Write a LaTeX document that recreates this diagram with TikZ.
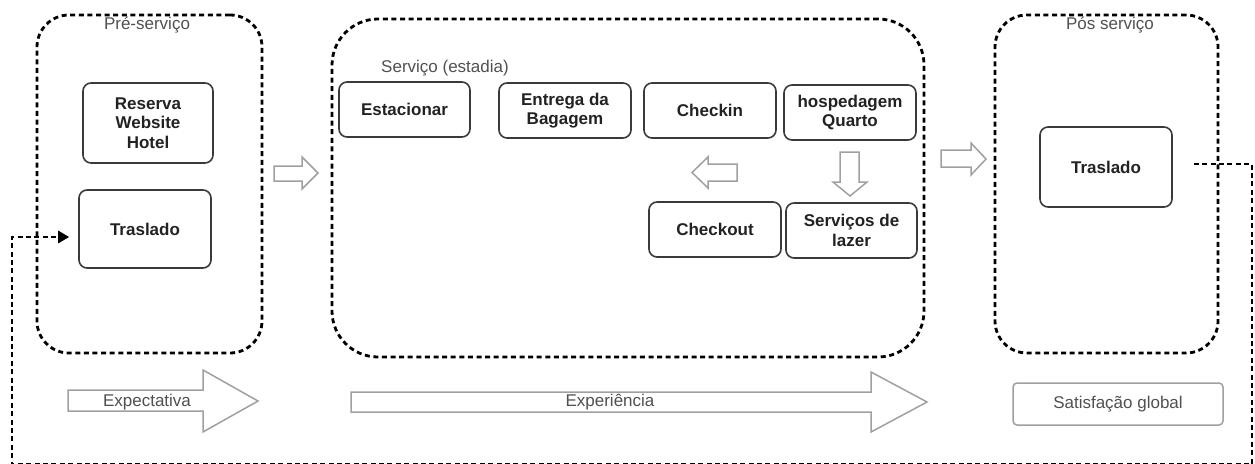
\documentclass[tikz,border=0pt]{standalone}
\usepackage{fontspec}
\setmainfont{Liberation Sans}
\usetikzlibrary{arrows.meta}

\definecolor{boxline}{HTML}{3A3A3A}
\definecolor{boxtext}{HTML}{222222}
\definecolor{softline}{HTML}{A0A0A0}
\definecolor{softtext}{HTML}{505050}

\begin{document}
\begin{tikzpicture}[x=1pt,y=-1pt,
  stage/.style={draw=black, line width=2.8pt, dash pattern=on 5pt off 3.6pt,
    rounded corners=#1, inner sep=0pt},
  stepbox/.style={draw=boxline, line width=1.6pt, rounded corners=8pt,
    align=center, text=boxtext, inner sep=0pt,
    font=\bfseries\fontsize{17}{19.5}\selectfont},
  caption/.style={text=softtext, inner sep=0pt, font=\fontsize{17}{20}\selectfont},
  hollow/.style={draw=softline, line width=1.5pt, fill=white, line join=miter},
  link/.style={draw=black, line width=2.9pt, dash pattern=on 5pt off 3.4pt}
]
\useasboundingbox (0,0) rectangle (1255,463);

% stage frames
\node[stage=32pt, minimum width=225, minimum height=338] (pre) at (149.5,184) {};
\node[stage=46pt, minimum width=592, minimum height=338] (mid) at (628,188) {};
\node[stage=32pt, minimum width=223, minimum height=338] (pos) at (1106.5,184) {};

\node[caption] (preLabel) at (147,25) {Pré-serviço};
\node[caption] (midLabel) at (445,68) {Serviço (estadia)};
\node[caption] (posLabel) at (1110,25) {Pós serviço};

% pre-service steps
\node[stepbox, minimum width=130, minimum height=80] (reserva) at (148,123) {Reserva\\Website\\Hotel};
\node[stepbox, minimum width=132, minimum height=78] (trL) at (145,229) {Traslado};

% service steps
\node[stepbox, minimum width=131, minimum height=55] (estac) at (404.5,109.5) {Estacionar};
\node[stepbox, minimum width=132, minimum height=55] (entrega) at (565,110.5) {Entrega da\\Bagagem};
\node[stepbox, minimum width=132, minimum height=55] (checkin) at (710,110.5) {Checkin};
\node[stepbox, minimum width=132, minimum height=55] (hosp) at (850,112.5) {hospedagem\\Quarto};
\node[stepbox, minimum width=132, minimum height=55] (checkout) at (715,229.5) {Checkout};
\node[stepbox, minimum width=131, minimum height=55] (lazer) at (851.5,230.5) {Serviços de\\lazer};

% post-service step
\node[stepbox, minimum width=132, minimum height=80] (trR) at (1106,167) {Traslado};

% satisfaction box
\node[draw=softline, line width=1.5pt, rounded corners=4pt, minimum width=210,
  minimum height=42, inner sep=0pt, text=softtext, font=\fontsize{17}{20}\selectfont]
  (satisf) at (1118,404) {Satisfação global};

% hollow flow arrows
\draw[hollow] (274,166) -- (302,166) -- (302,157) -- (318,173) -- (302,189) -- (302,181) -- (274,181) -- cycle;
\draw[hollow] (941,150) -- (971,150) -- (971,143) -- (986,159) -- (971,175) -- (971,167) -- (941,167) -- cycle;
\draw[hollow] (737,164) -- (708,164) -- (708,157) -- (692,172.5) -- (708,188) -- (708,181) -- (737,181) -- cycle;
\draw[hollow] (840,152) -- (840,182) -- (833,182) -- (850,196) -- (867,182) -- (859,182) -- (859,152) -- cycle;

% expectation and experience arrows
\draw[hollow] (68,390) -- (203,390) -- (203,370) -- (258,401) -- (203,432) -- (203,411) -- (68,411) -- cycle;
\node[caption] (expect) at (147,402) {Expectativa};
\draw[hollow] (351,392) -- (871,392) -- (871,372) -- (927,402) -- (871,432) -- (871,412) -- (351,412) -- cycle;
\node[caption] (exper) at (610,402) {Experiência};

% return transfer loop, its lower run passing along the bottom edge
\coordinate (c1) at (1252,164);
\coordinate (c2) at (1252,464.2);
\coordinate (c3) at (12,464.2);
\coordinate (c4) at (12,237);
\draw[link, -{Triangle[length=11pt,width=12pt]}, shorten <=21pt, shorten >=9pt]
  (trR.east |- c1) -- (c1) -- (c2) -- (c3) -- (c4) -- (trL.west |- c4);
\end{tikzpicture}
\end{document}
